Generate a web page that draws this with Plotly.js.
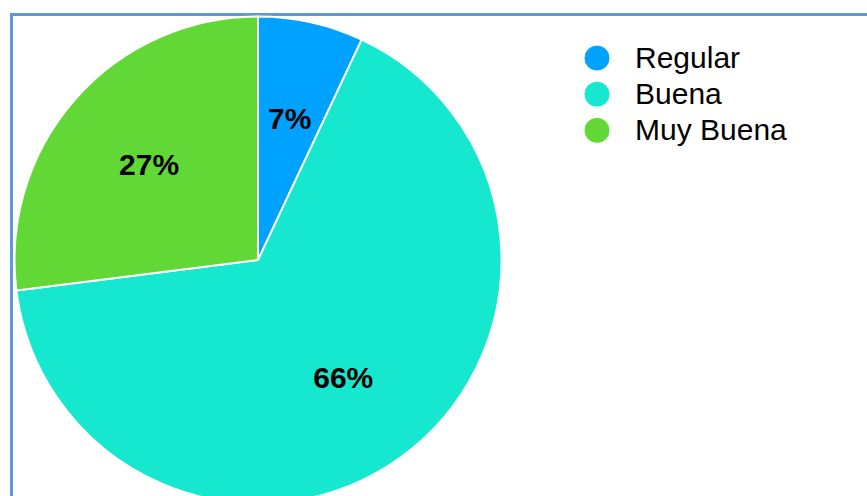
<!DOCTYPE html>
<html>
<head>
<meta charset="utf-8">
<script src="https://cdn.plot.ly/plotly-3.0.1.min.js"></script>
<style>
  html, body { margin: 0; padding: 0; width: 867px; height: 496px; overflow: hidden; background: #fff; }
  #frame { position: absolute; left: 10px; top: 13px; width: 870px; height: 520px; border: 3px solid #5B9BD5; box-sizing: border-box; }
  #chart { position: absolute; left: -40px; top: -40px; width: 947px; height: 600px; }
</style>
</head>
<body>
<div id="frame"></div>
<div id="chart"></div>
<script>
const categories = ["Regular", "Buena", "Muy Buena"];
const values = [7, 66, 27];
const colors = ["#00A2FF", "#16E7CF", "#61D836"];

const OFF = 40;
const W = 947, H = 600;
const cx = 258 + OFF, cy = 260 + OFF, r = 243.5;   // main pie (pixels)

function dom(rad) {
  return { x: [(cx - rad) / W, (cx + rad) / W], y: [(H - cy - rad) / H, (H - cy + rad) / H] };
}

const PCT = "%{percent:.0%}";
const clear = ["rgba(0,0,0,0)", "rgba(0,0,0,0)", "rgba(0,0,0,0)"];
const labelFont = { family: "Liberation Sans, Arial, sans-serif", size: 30, color: "#000000", weight: "bold" };

const common = {
  type: "pie",
  labels: categories,
  values: values,
  sort: false,
  direction: "clockwise",
  rotation: 0,
  hoverinfo: "none"
};

const pieTrace = Object.assign({}, common, {
  marker: { colors: colors, line: { color: "#ffffff", width: 2 } },
  textinfo: "none",
  domain: dom(r)
});

// labels for the two narrower slices
const labelTraceA = Object.assign({}, common, {
  hole: 0.64,
  showlegend: false,
  marker: { colors: clear, line: { width: 0 } },
  texttemplate: [PCT, "", PCT],
  textposition: "inside",
  insidetextorientation: "horizontal",
  textfont: labelFont,
  domain: dom(177)
});

// label for the large slice
const labelTraceB = Object.assign({}, common, {
  showlegend: false,
  marker: { colors: clear, line: { width: 0 } },
  texttemplate: ["", PCT, ""],
  textposition: "inside",
  insidetextorientation: "horizontal",
  textfont: labelFont,
  domain: dom(290)
});

const layout = {
  width: W, height: H,
  margin: { l: 0, r: 0, t: 0, b: 0 },
  paper_bgcolor: "rgba(0,0,0,0)",
  showlegend: true,
  uniformtext: { minsize: 30, mode: "show" },
  legend: {
    x: (559 + OFF) / W, xanchor: "left",
    y: (H - 35 - OFF) / H, yanchor: "top",
    font: { family: "Liberation Sans, Arial, sans-serif", size: 25.5, color: "#000000" },
    itemwidth: 66,
    bgcolor: "rgba(0,0,0,0)"
  }
};

Plotly.newPlot("chart", [pieTrace, labelTraceA, labelTraceB], layout, { displayModeBar: false, staticPlot: true }).then(function (gd) {
  const rr = 13;
  gd.querySelectorAll(".legend .legendpoints path").forEach(function (p) {
    p.setAttribute("d", "M" + rr + ",0A" + rr + "," + rr + " 0 1,1 0,-" + rr + "A" + rr + "," + rr + " 0 0,1 " + rr + ",0Z");
    p.style.stroke = "#ffffff";
    p.style.strokeWidth = "1px";
  });
  gd.querySelectorAll(".legend .legendtext").forEach(function (t) {
    t.style.fontSize = "30px";
  });
  gd.querySelectorAll(".legend [clip-path]").forEach(function (e) {
    e.removeAttribute("clip-path");
  });
});
</script>
</body>
</html>
